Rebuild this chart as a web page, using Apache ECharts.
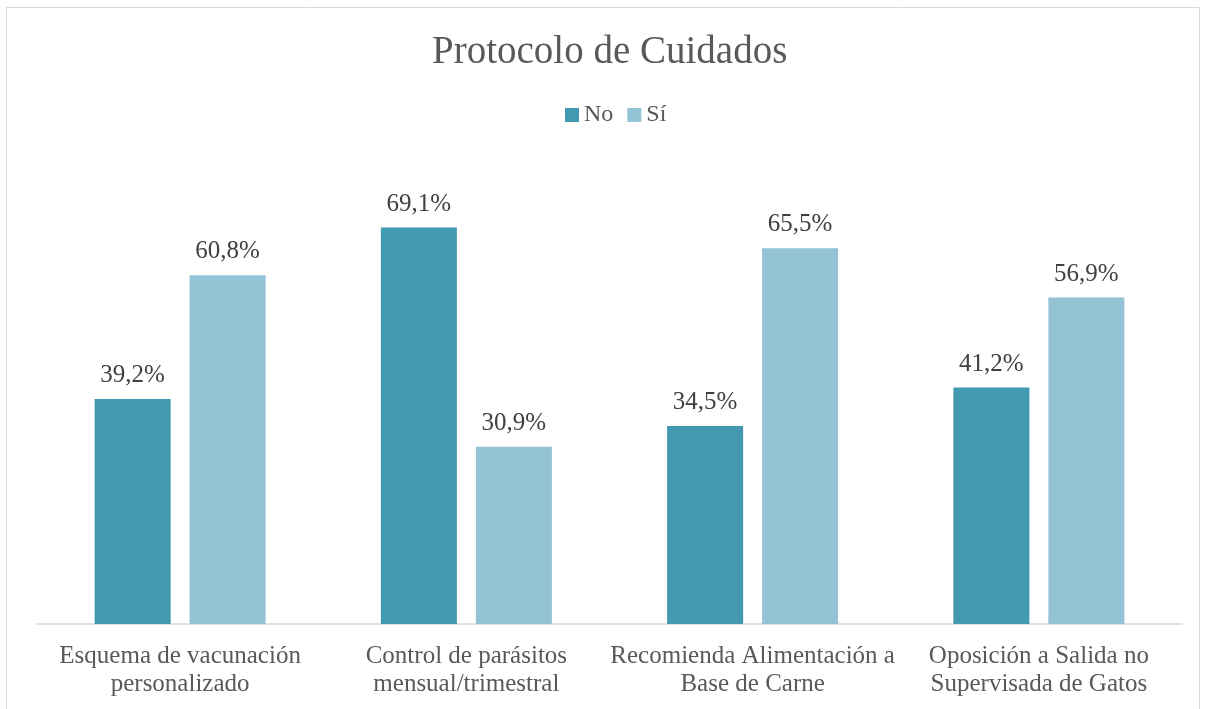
<!DOCTYPE html>
<html>
<head>
<meta charset="utf-8">
<script src="https://cdn.jsdelivr.net/npm/echarts@6/dist/echarts.min.js"></script>
<style>
  html, body { margin: 0; padding: 0; background: #fff; }
  #main { width: 1205px; height: 709px; }
</style>
</head>
<body>
<div id="main"></div>
<script>
var categories = [
  'Esquema de vacunación\npersonalizado',
  'Control de parásitos\nmensual/trimestral',
  'Recomienda Alimentación a\nBase de Carne',
  'Oposición a Salida no\nSupervisada de Gatos'
];
var noValues = [39.2, 69.1, 34.5, 41.2];
var siValues = [60.8, 30.9, 65.5, 56.9];

var font = 'Liberation Serif';
var myChart = echarts.init(document.getElementById('main'));

function pct(p) {
  return p.value.toFixed(1).replace('.', ',') + '%';
}

myChart.setOption({
  backgroundColor: '#fff',
  animation: false,
  title: {
    text: 'Protocolo de Cuidados',
    left: 427,
    top: 28,
    textStyle: { fontFamily: font, fontSize: 39, fontWeight: 'normal', color: '#595959' }
  },
  legend: {
    top: 98,
    left: 560,
    itemWidth: 14,
    itemHeight: 14,
    itemGap: 14,
    icon: 'rect',
    textStyle: { fontFamily: font, fontSize: 24, color: '#595959' },
    data: ['No', 'Sí']
  },
  graphic: [{
    type: 'rect',
    shape: { x: 6.5, y: 7.5, width: 1193, height: 720 },
    style: { fill: 'none', stroke: '#d9d9d9', lineWidth: 1 },
    silent: true
  }],
  grid: { left: 37, right: 23, top: 165, bottom: 85 },
  xAxis: {
    type: 'category',
    data: categories,
    axisTick: { show: false },
    axisLine: { lineStyle: { color: '#d9d9d9', width: 1.5 } },
    axisLabel: {
      fontFamily: font, fontSize: 25, color: '#595959', lineHeight: 28, margin: 18, interval: 0
    }
  },
  yAxis: {
    type: 'value',
    min: 0,
    max: 80,
    show: false,
    splitLine: { show: false }
  },
  series: [{
    name: 'No',
    type: 'bar',
    data: noValues,
    barWidth: 76,
    barGap: '25%',
    itemStyle: { color: '#4299b0' },
    label: { show: true, position: 'top', distance: 11, formatter: pct,
      fontFamily: font, fontSize: 25, color: '#404040' }
  }, {
    name: 'Sí',
    type: 'bar',
    data: siValues,
    barWidth: 76,
    itemStyle: { color: '#93c3d5' },
    label: { show: true, position: 'top', distance: 11, formatter: pct,
      fontFamily: font, fontSize: 25, color: '#404040' }
  }]
});
</script>
</body>
</html>
